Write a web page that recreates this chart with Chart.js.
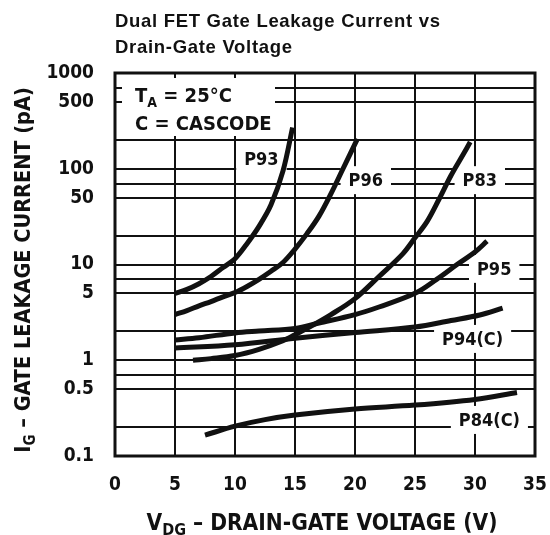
<!DOCTYPE html>
<html><head><meta charset="utf-8">
<script src="https://cdn.jsdelivr.net/npm/chart.js@4.4.0/dist/chart.umd.min.js"></script>
<style>
html,body{margin:0;padding:0;background:#fff;}
canvas{display:block}
</style></head><body>
<canvas id="c" width="550" height="535"></canvas>
<script>
// ---- data ----
const xTicks = [0, 5, 10, 15, 20, 25, 30, 35];
const yGridValues = [0.1,0.2,0.5,0.7,1,2,5,7,10,20,50,70,100,200,500,700,1000];
const yTickLabels = ['0.1','0.5','1','5','10','50','100','500','1000'];

const seriesNames = ['P93','P96','P83','P95','P94(C)','P84(C)'];

const p93V = [5, 6, 7, 8, 9, 10, 11, 12, 13, 14, 14.8];
const p93I = [5.0, 5.5, 6.3, 7.5, 9.3, 11.5, 16.5, 25, 42, 95, 270];

const p96V = [5, 6, 7, 8, 9, 10, 11, 12, 13, 14, 15, 16, 17, 18, 19, 20.2];
const p96I = [3.0, 3.3, 3.7, 4.1, 4.6, 5.1, 5.9, 7.0, 8.5, 10.5, 14.5, 21, 32, 55, 100, 205];

const p83V = [6.5, 8, 10, 12, 14, 15, 16, 18, 20, 22, 24, 25, 26, 27, 28, 29, 29.6];
const p83I = [1.0, 1.04, 1.12, 1.3, 1.6, 1.85, 2.15, 3.0, 4.4, 7.5, 13, 19, 28, 48, 85, 140, 190];

const p95V = [5, 7, 10, 12, 15, 17, 20, 22, 25, 26.8, 28.5, 30, 31];
const p95I = [1.63, 1.72, 1.93, 2.02, 2.15, 2.45, 3.0, 3.6, 5.0, 7, 10, 13.5, 17.5];

const p94V = [5, 10, 15, 20, 25, 28, 30.4, 32.3];
const p94I = [1.34, 1.45, 1.7, 1.95, 2.22, 2.6, 2.97, 3.5];

const p84V = [7.5, 10, 12.5, 15, 20, 25, 30, 33.5];
const p84I = [0.165, 0.205, 0.24, 0.268, 0.31, 0.34, 0.39, 0.46];

// ---- placement of curve labels (in data units) ----
const labelPlacement = {
  'P93':    {x: 12.2, y: 126},
  'P96':    {x: 20.9, y: 76},
  'P83':    {x: 30.4, y: 76},
  'P95':    {x: 31.6, y: 9.0},
  'P94(C)': {x: 29.8, y: 1.67},
  'P84(C)': {x: 31.2, y: 0.238}
};

const COND = "'DejaVu Sans Condensed','Liberation Sans Narrow','Roboto',sans-serif";
const TITLEF = "'Liberation Sans','Arimo','DejaVu Sans',sans-serif";
const INK = '#111';

function pts(vs, is){ return vs.map((v,k)=>({x:v, y:is[k]})); }
const allV = [p93V,p96V,p83V,p95V,p94V,p84V];
const allI = [p93I,p96I,p83I,p95I,p94I,p84I];

const datasets = seriesNames.map((n,k)=>({
  label: n,
  data: pts(allV[k], allI[k]),
  borderColor: INK,
  borderWidth: 5,
  borderCapStyle: 'butt',
  borderJoinStyle: 'round',
  pointRadius: 0,
  fill: false,
  tension: 0.35
}));

function richWidth(ctx, parts, size, subSize){
  let w = 0;
  parts.forEach(p=>{
    ctx.font = `bold ${p.sub?subSize:size}px ${COND}`;
    w += ctx.measureText(p.t).width;
  });
  return w;
}
function drawRich(ctx, parts, x, y, size, subSize, subDy){
  let cx = x;
  ctx.textBaseline = 'alphabetic';
  ctx.textAlign = 'left';
  parts.forEach(p=>{
    ctx.font = `bold ${p.sub?subSize:size}px ${COND}`;
    ctx.fillText(p.t, cx, y + (p.sub?subDy:0));
    cx += ctx.measureText(p.t).width;
  });
}

const annot = {
  id: 'annot',
  beforeDatasetsDraw(chart){
    const {ctx, chartArea:a, scales:{x, y}} = chart;
    ctx.save();
    ctx.font = `bold 18px ${COND}`;
    seriesNames.forEach(n=>{
      const p = labelPlacement[n];
      const px = x.getPixelForValue(p.x), py = y.getPixelForValue(p.y);
      const w = ctx.measureText(n).width;
      ctx.fillStyle = '#fff';
      ctx.fillRect(px - w/2 - 8, py - 14, w + 16, 28);
      ctx.fillStyle = INK;
      ctx.textAlign = 'center';
      ctx.textBaseline = 'middle';
      ctx.fillText(n, px, py + 1);
    });
    ctx.fillStyle = '#fff';
    ctx.fillRect(a.left + 7, a.top + 5, 153, 58);
    ctx.fillStyle = INK;
    drawRich(ctx, [{t:'T'},{t:'A',sub:true},{t:' = 25°C'}], a.left + 20, a.top + 29, 20, 14, 5);
    drawRich(ctx, [{t:'C = CASCODE'}], a.left + 20, a.top + 57, 20, 14, 5);
    ctx.restore();
  },
  afterDraw(chart){
    const {ctx, chartArea:a} = chart;
    ctx.save();
    ctx.strokeStyle = INK;
    ctx.lineWidth = 3;
    ctx.strokeRect(a.left, a.top, a.right - a.left, a.bottom - a.top);
    ctx.fillStyle = INK;
    ctx.font = `bold 18.5px ${TITLEF}`;
    ctx.letterSpacing = '0.7px';
    ctx.textAlign = 'left';
    ctx.textBaseline = 'alphabetic';
    ctx.fillText('Dual FET Gate Leakage Current vs', a.left, 27);
    ctx.fillText('Drain-Gate Voltage', a.left, 53);
    ctx.letterSpacing = '0px';
    const xt = [{t:'V'},{t:'DG',sub:true},{t:' – DRAIN-GATE VOLTAGE (V)'}];
    const xw = richWidth(ctx, xt, 22.5, 16);
    drawRich(ctx, xt, 322 - xw/2, 530, 22.5, 16, 5);
    const yt = [{t:'I'},{t:'G',sub:true},{t:' – GATE LEAKAGE CURRENT (pA)'}];
    const yw = richWidth(ctx, yt, 21.5, 15);
    ctx.translate(30, 270);
    ctx.rotate(-Math.PI/2);
    drawRich(ctx, yt, -yw/2, 0, 21.5, 15, 5);
    ctx.restore();
  }
};

new Chart(document.getElementById('c'), {
  type: 'line',
  data: { datasets },
  options: {
    responsive: false,
    devicePixelRatio: 1,
    animation: false,
    layout: { padding: { left: 0, right: 15, top: 73, bottom: 0 } },
    plugins: { legend: { display: false }, tooltip: { enabled: false }, title: { display: false } },
    scales: {
      x: {
        type: 'linear',
        min: 0, max: 35,
        afterBuildTicks: s => { s.ticks = xTicks.map(v=>({value:v})); },
        afterFit: s => { s.height = 79; s.paddingLeft = 0; s.paddingRight = 0; },
        ticks: { color: INK, font: { family: COND, weight: 'bold', size: 19 }, padding: 18, maxRotation: 0, autoSkip: false },
        grid: { color: INK, lineWidth: 2, drawTicks: false },
        border: { display: false }
      },
      y: {
        type: 'logarithmic',
        min: 0.1, max: 1000,
        afterBuildTicks: s => { s.ticks = yGridValues.map(v=>({value:v})); },
        afterFit: s => { s.width = 115; s.paddingTop = 0; s.paddingBottom = 0; },
        ticks: {
          color: INK, font: { family: COND, weight: 'bold', size: 19 }, padding: 21, autoSkip: false,
          callback: (v) => { const t = yTickLabels.find(l => Math.abs(parseFloat(l) - v) < 1e-9); return t || ''; }
        },
        grid: { color: INK, lineWidth: 2, drawTicks: false },
        border: { display: false }
      }
    }
  },
  plugins: [annot]
});
</script></body></html>
